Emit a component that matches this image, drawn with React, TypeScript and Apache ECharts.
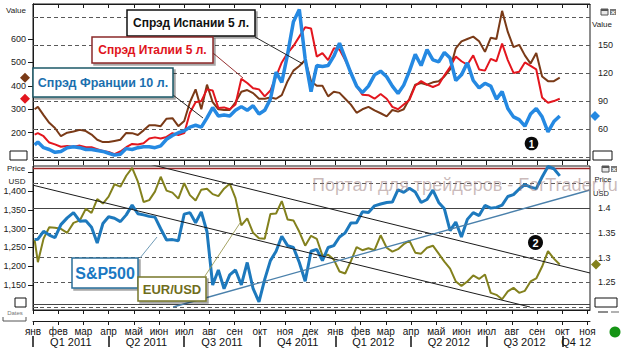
import React, { useEffect, useRef } from 'react';
import * as echarts from 'echarts';

const W = 627;
const H = 349;
const FONT = '"Liberation Sans", Arial, sans-serif';

// ---- categories / tick labels ----
const monthNames = ['янв', 'фев', 'мар', 'апр', 'май', 'июн', 'июл', 'авг', 'сен', 'окт', 'ноя', 'дек'];
const quarterLabels = ['Q1 2011', 'Q2 2011', 'Q3 2011', 'Q4 2011', 'Q1 2012', 'Q2 2012', 'Q3 2012', 'Q4 12'];
const quarterCenters = [1.5, 4.5, 7.5, 10.5, 13.5, 16.5, 19.5, 21.55];
const quarterStarts = [0, 3, 6, 9, 12, 15, 18, 21];
const monthTicks = Array.from({ length: 23 }, (_, i) => i);

// ---- weekly observation dates (first trading day, then Fridays) ----
const firstDate = [2011, 0, 3];
const firstFriday = [2011, 0, 7];
const lastFriday = [2012, 8, 28];

// ---- series values ----
const spain5y = [300, 310, 275, 242, 220, 185, 200, 205, 212, 207,
  192, 170, 160, 160, 165, 170, 199, 198, 190, 210,
  232, 232, 228, 260, 262, 228, 250, 330, 385, 300,
  405, 330, 300, 297, 297, 330, 375, 382, 369, 345,
  345, 350, 345, 360, 420, 465, 485, 510, 420, 400,
  400, 355, 375, 370, 345, 320, 285, 300, 310, 295,
  283, 270, 297, 290, 300, 345, 405, 412, 405, 415,
  420, 440, 470, 560, 590, 600, 610, 590, 545, 605,
  600, 720, 630, 565, 575, 530, 495, 540, 440, 420,
  420, 435];
const italy5y = [192, 198, 185, 158, 150, 140, 143, 140, 145, 138,
  138, 130, 122, 118, 108, 120, 138, 152, 150, 155,
  175, 180, 175, 182, 198, 190, 198, 285, 330, 335,
  385, 380, 305, 308, 300, 320, 430, 412, 390, 385,
  355, 380, 440, 500, 540, 570, 610, 650, 645, 525,
  540, 510, 560, 555, 510, 460, 400, 362, 360, 345,
  365, 345, 310, 300, 320, 340, 400, 420, 405, 395,
  405, 445, 480, 525, 505, 490, 530, 470, 465, 515,
  505, 580, 510, 455, 460, 500, 485, 470, 350, 328,
  335, 345];
const france10y = [43, 46, 40, 38, 35, 36, 40, 41, 40, 38,
  38, 37, 36, 34, 32, 33, 39, 38, 40, 41,
  41, 40, 42, 49, 53, 56, 58, 62, 64, 62,
  72, 83, 74, 75, 74, 80, 84, 80, 85, 76,
  80, 92, 121, 110, 140, 175, 188, 135, 100, 128,
  127, 128, 138, 152, 136, 120, 106, 99, 106, 118,
  122, 116, 106, 98, 107, 122, 140, 128, 145, 134,
  132, 142, 136, 112, 118, 131, 112, 104, 109, 106,
  92, 100, 82, 73, 70, 63, 76, 82, 73, 57,
  68, 74];
const sp500 = [1271, 1272, 1293, 1283, 1276, 1311, 1329, 1343, 1320, 1321,
  1304, 1262, 1314, 1332, 1328, 1319, 1337, 1363, 1340, 1337,
  1333, 1331, 1300, 1270, 1271, 1268, 1339, 1343, 1316, 1345,
  1292, 1150, 1190, 1140, 1177, 1190, 1150, 1210, 1140, 1105,
  1165, 1215, 1240, 1280, 1255, 1250, 1210, 1160, 1240, 1245,
  1215, 1250, 1255, 1278, 1289, 1315, 1316, 1345, 1343, 1361,
  1366, 1370, 1371, 1404, 1397, 1408, 1398, 1370, 1378, 1403,
  1370, 1353, 1295, 1318, 1278, 1325, 1343, 1335, 1362, 1355,
  1357, 1363, 1386, 1391, 1406, 1418, 1411, 1407, 1438, 1466,
  1460, 1441];
const eurusd = [1.336, 1.2908, 1.3383, 1.3612, 1.36, 1.358, 1.35, 1.37, 1.375, 1.3985,
  1.39, 1.418, 1.409, 1.423, 1.448, 1.443, 1.465, 1.481, 1.453, 1.412,
  1.416, 1.433, 1.463, 1.435, 1.431, 1.419, 1.45, 1.426, 1.415, 1.437,
  1.439, 1.428, 1.424, 1.439, 1.449, 1.42, 1.365, 1.379, 1.35, 1.339,
  1.338, 1.388, 1.389, 1.414, 1.377, 1.375, 1.352, 1.324, 1.344, 1.338,
  1.304, 1.306, 1.296, 1.272, 1.268, 1.293, 1.321, 1.315, 1.319, 1.315,
  1.345, 1.32, 1.312, 1.317, 1.327, 1.334, 1.31, 1.308, 1.32, 1.324,
  1.308, 1.292, 1.278, 1.252, 1.243, 1.252, 1.264, 1.257, 1.266, 1.229,
  1.225, 1.216, 1.232, 1.239, 1.229, 1.233, 1.252, 1.258, 1.282, 1.313,
  1.298, 1.286];

// trend lines: [month index, value]
const eurChannelUpper = [[4.44, 1.4907], [22.1, 1.269]];
const eurChannelLower = [[0, 1.446], [19.72, 1.2004]];
const spSupportTrend = [[5.56, 1091.3], [22.1, 1403.3]];
const spHorizontal = 1099;
const eurTopLine = 1.4835;
const topGridValues = [30, 60, 90, 120, 150, 180];
const bottomGridValues = [1.2, 1.25, 1.3, 1.35, 1.45];
const eurSolidLine = 1.4;

// ---- helpers ----
const toMonths = (t: number) => {
  const d = new Date(t);
  const y = d.getUTCFullYear();
  const m = d.getUTCMonth();
  const dim = new Date(Date.UTC(y, m + 1, 0)).getUTCDate();
  return (y - 2011) * 12 + m + (d.getUTCDate() - 1) / dim;
};
const dates: number[] = [Date.UTC(firstDate[0], firstDate[1], firstDate[2])];
for (let t = Date.UTC(firstFriday[0], firstFriday[1], firstFriday[2]);
  t <= Date.UTC(lastFriday[0], lastFriday[1], lastFriday[2]); t += 7 * 86400000) dates.push(t);
const xs = dates.map(toMonths);
const pairs = (vals: number[]) => vals.map((v, i) => [xs[i], v]);

const C = {
  spain: '#7a3a17',
  italy: '#e3161e',
  france: '#2589e2',
  sp: '#1d79bd',
  eur: '#83811d',
  axis: '#1a1a1a',
  grid: '#5a5a5a',
};

function buildOption(): any {
  const xBase = {
    type: 'value', min: 0, max: 22.1,
    splitLine: { show: false },
    axisLabel: { show: false },
    axisLine: { show: true, lineStyle: { color: C.axis, width: 1 } },
  };
  const yLabel = { fontSize: 9, fontFamily: FONT, color: '#222' };
  const dashed = { color: C.grid, type: [4, 3], width: 1 };
  return {
    animation: false,
    backgroundColor: '#fff',
    grid: [
      { left: 33, right: 37, top: 4, height: 156, show: true, borderColor: C.axis, borderWidth: 1 },
      { left: 33, right: 37, top: 166, height: 144, show: true, borderColor: C.axis, borderWidth: 1 },
    ],
    xAxis: [
      { ...xBase, gridIndex: 0, position: 'bottom', axisTick: { length: 5, customValues: monthTicks, lineStyle: { color: C.axis } } },
      { ...xBase, gridIndex: 0, position: 'top', axisTick: { inside: true, length: 4, customValues: monthTicks, lineStyle: { color: C.axis } } },
      { ...xBase, gridIndex: 1, position: 'bottom', axisTick: { length: 4, customValues: monthTicks, lineStyle: { color: C.axis } } },
      {
        ...xBase, gridIndex: 1, position: 'bottom', offset: 11,
        axisTick: { length: 4, customValues: monthTicks, lineStyle: { color: C.axis } },
        axisLabel: {
          show: true, customValues: monthTicks, margin: 5, fontSize: 10, fontFamily: FONT, color: '#111',
          formatter: (v: number) => monthNames[Math.round(v) % 12],
        },
      },
      {
        ...xBase, gridIndex: 1, position: 'bottom', offset: 26,
        axisLine: { show: false },
        axisTick: { show: true, length: 11, customValues: quarterStarts, lineStyle: { color: '#111', width: 1.5 } },
        axisLabel: {
          show: true, customValues: quarterCenters, margin: 0, fontSize: 11, fontFamily: FONT, color: '#111',
          formatter: (v: number) => {
            const i = quarterCenters.findIndex((c) => Math.abs(c - v) < 1e-6);
            return i >= 0 ? quarterLabels[i] : '';
          },
        },
      },
    ],
    yAxis: [
      {
        type: 'value', gridIndex: 0, position: 'left', min: 83.5, max: 749.3,
        splitLine: { show: false },
        axisLine: { show: true, lineStyle: { color: C.axis } },
        axisTick: { show: true, length: 5, customValues: [200, 300, 400, 500, 600], lineStyle: { color: C.axis } },
        axisLabel: { ...yLabel, margin: 7, customValues: [200, 300, 400, 500, 600] },
      },
      {
        type: 'value', gridIndex: 0, position: 'right', min: 26.79, max: 193.93,
        splitLine: { show: false },
        axisLine: { show: true, lineStyle: { color: C.axis } },
        axisTick: { show: true, length: 5, customValues: topGridValues, lineStyle: { color: C.axis } },
        axisLabel: { ...yLabel, margin: 8, customValues: [60, 90, 120, 150] },
      },
      {
        type: 'value', gridIndex: 1, position: 'left', min: 1083.3, max: 1467.3,
        splitLine: { show: false },
        axisLine: { show: true, lineStyle: { color: C.axis } },
        axisTick: { show: true, length: 5, customValues: [1150, 1200, 1250, 1300, 1350, 1400, 1450], lineStyle: { color: C.axis } },
        axisLabel: {
          ...yLabel, margin: 7, customValues: [1150, 1200, 1250, 1300, 1350, 1400],
          formatter: (v: number) => v.toLocaleString('en-US'),
        },
      },
      {
        type: 'value', gridIndex: 1, position: 'right', min: 1.1944, max: 1.4847,
        splitLine: { show: false },
        axisLine: { show: true, lineStyle: { color: C.axis } },
        axisTick: { show: true, length: 5, customValues: [1.2, 1.25, 1.3, 1.35, 1.4, 1.45], lineStyle: { color: C.axis } },
        axisLabel: { ...yLabel, margin: 8, customValues: [1.25, 1.3, 1.35, 1.4], formatter: (v: number) => String(+v.toFixed(2)) },
      },
    ],
    series: [
      {
        type: 'line', name: 'Спрэд Испании 5 л.', xAxisIndex: 0, yAxisIndex: 0, data: pairs(spain5y),
        showSymbol: false, symbol: 'none', lineStyle: { color: C.spain, width: 2 }, z: 3,
      },
      {
        type: 'line', name: 'Спрэд Италии 5 л.', xAxisIndex: 0, yAxisIndex: 0, data: pairs(italy5y),
        showSymbol: false, symbol: 'none', lineStyle: { color: C.italy, width: 2 }, z: 4,
      },
      {
        type: 'line', name: 'Спрэд Франции 10 л.', xAxisIndex: 0, yAxisIndex: 1, data: pairs(france10y),
        showSymbol: false, symbol: 'none', lineStyle: { color: C.france, width: 3.5 }, z: 5,
        markLine: {
          z: 1, silent: true, symbol: 'none', label: { show: false }, lineStyle: dashed,
          data: topGridValues.map((v) => ({ yAxis: v })),
        },
      },
      {
        type: 'line', name: 'EUR/USD', xAxisIndex: 2, yAxisIndex: 3, data: pairs(eurusd),
        showSymbol: false, symbol: 'none', lineStyle: { color: C.eur, width: 2 }, z: 4,
        markLine: {
          z: 1, silent: true, symbol: 'none', label: { show: false }, lineStyle: dashed,
          data: [
            ...bottomGridValues.map((v) => ({ yAxis: v })),
            { yAxis: eurSolidLine, lineStyle: { color: '#444', type: 'solid', width: 1.2 } },
            { yAxis: eurTopLine, lineStyle: { color: '#a02828', type: 'solid', width: 1.3 } },
          ],
        },
      },
      {
        type: 'line', name: 'S&P500', xAxisIndex: 2, yAxisIndex: 2, data: pairs(sp500),
        showSymbol: false, symbol: 'none', lineStyle: { color: C.sp, width: 3 }, z: 5,
        markLine: {
          z: 1, silent: true, symbol: 'none', label: { show: false },
          lineStyle: { color: '#444', type: 'solid', width: 1 },
          data: [{ yAxis: spHorizontal }],
        },
      },
      {
        type: 'line', xAxisIndex: 2, yAxisIndex: 3, data: eurChannelUpper, symbol: 'none',
        lineStyle: { color: '#1a1a1a', width: 1 }, z: 6, silent: true,
      },
      {
        type: 'line', xAxisIndex: 2, yAxisIndex: 3, data: eurChannelLower, symbol: 'none',
        lineStyle: { color: '#1a1a1a', width: 1 }, z: 6, silent: true,
      },
      {
        type: 'line', xAxisIndex: 2, yAxisIndex: 2, data: spSupportTrend, symbol: 'none',
        lineStyle: { color: '#4a80ab', width: 1.3 }, z: 6, silent: true,
      },
    ],
  };
}

function txt(x: number, y: number, text: string, o: any = {}) {
  return {
    type: 'text', z: 100,
    style: {
      x, y, text, fontFamily: FONT, fontSize: 9, fill: '#222', align: 'center', verticalAlign: 'middle', ...o,
    },
  };
}
function box(x: number, y: number, w: number, h: number, stroke: string, o: any = {}) {
  return {
    type: 'rect', z: 100, shape: { x, y, width: w, height: h },
    style: { fill: '#fff', stroke, lineWidth: 1.5, shadowColor: 'rgba(0,0,0,0.35)', shadowOffsetX: 2, shadowOffsetY: 2, shadowBlur: 1, ...o },
  };
}
function seg(x1: number, y1: number, x2: number, y2: number, stroke: string, w = 0.9) {
  return { type: 'line', z: 99, shape: { x1, y1, x2, y2 }, style: { stroke, lineWidth: w } };
}
function diamond(x: number, y: number, fill: string) {
  return { type: 'polygon', z: 100, shape: { points: [[x, y - 5], [x + 5, y], [x, y + 5], [x - 5, y]] }, style: { fill } };
}
function tag(x: number, y: number, w: number, text: string) {
  return [
    { type: 'rect', z: 101, shape: { x, y, width: w, height: 9 }, style: { fill: '#fff', stroke: '#111', lineWidth: 1 } },
    txt(x + w / 2, y + 4.7, text, { fontSize: 8, fill: '#111' }),
  ];
}
function winIcons(x: number, y: number) {
  return [
    { type: 'rect', z: 100, shape: { x, y, width: 7, height: 6 }, style: { fill: '#e8e8e8', stroke: '#555', lineWidth: 1 } },
    { type: 'rect', z: 101, shape: { x, y, width: 7, height: 2 }, style: { fill: '#555' } },
    { type: 'rect', z: 100, shape: { x: x + 9, y, width: 6, height: 6 }, style: { fill: '#777' } },
    txt(x + 12, y + 3, '×', { fontSize: 8, fill: '#fff', fontWeight: 'bold' }),
  ];
}

function buildGraphics(chart: any): any[] {
  const last = (a: number[]) => a[a.length - 1];
  const ySpain = chart.convertToPixel({ yAxisIndex: 0 }, last(spain5y));
  const yItaly = chart.convertToPixel({ yAxisIndex: 0 }, last(italy5y));
  const yFrance = chart.convertToPixel({ yAxisIndex: 1 }, last(france10y));
  const yEur = chart.convertToPixel({ yAxisIndex: 3 }, last(eurusd));
  return [
    // axis captions
    txt(16, 10, 'Value', { fontSize: 8 }),
    txt(602, 24, 'Value', { fontSize: 8 }),
    txt(16, 168, 'Price', { fontSize: 8 }),
    txt(17, 181, 'USD', { fontSize: 8 }),
    txt(603, 179, 'Price', { fontSize: 7.5 }),
    txt(601, 193, 'USD', { fontSize: 7.5 }),
    txt(15, 313, 'Dates', { fontSize: 6, fill: '#777' }),
    { type: 'polyline', z: 100, shape: { points: [[3, 317], [3, 321], [26, 321], [26, 317]] }, style: { stroke: '#555', lineWidth: 1, fill: 'none' } },
    // value tags
    ...tag(10, 151, 17, '.123'),
    ...tag(593, 151, 19, '123'),
    ...tag(15, 298, 11, '.12'),
    ...tag(595, 298, 22, '1234'),
    seg(598, 312, 608, 312, '#666', 1.5),
    seg(611, 312, 619, 312, '#999', 1.5),
    // window icons
    ...winIcons(601, 9),
    ...winIcons(602, 166),
    { type: 'circle', z: 100, shape: { cx: 615, cy: 332, r: 5.5 }, style: { fill: '#159415' } },
    // last-value diamonds
    diamond(25, ySpain, C.spain),
    diamond(25, yItaly, C.italy),
    diamond(595, yFrance, C.france),
    diamond(596, yEur, C.eur),
    // leader lines
    seg(255, 37, 303, 64, '#111'),
    seg(213, 53, 243, 78, '#8b1a1a'),
    seg(173, 95, 203, 118, '#111'),
    seg(140, 258, 157, 237, '#5f8fae'),
    seg(205, 276, 240, 223, '#9c9a55'),
    // label boxes
    box(127, 10, 128, 26, '#111'),
    txt(191, 23, 'Спрэд Испании 5 л.', { fontSize: 12, fontWeight: 'bold', fill: '#111' }),
    box(92, 37, 121, 26, '#8b2a2a'),
    txt(152.5, 50, 'Спрэд Италии 5 л.', { fontSize: 12, fontWeight: 'bold', fill: '#e0141c' }),
    box(33, 68, 140, 29, '#1c5868'),
    txt(103, 82.5, 'Спрэд Франции 10 л.', { fontSize: 12.5, fontWeight: 'bold', fill: '#1b6fae' }),
    box(72, 258, 66, 30, '#2a6f9a'),
    txt(105, 273, 'S&P500', { fontSize: 16, fontWeight: 'bold', fill: '#1a78c2' }),
    box(138, 277, 68, 24, '#77772a'),
    txt(172, 289, 'EUR/USD', { fontSize: 13, fontWeight: 'bold', fill: '#6f6d1c' }),
    // numbered markers
    { type: 'circle', z: 100, shape: { cx: 531.5, cy: 143.5, r: 6.8 }, style: { fill: '#0a0a0a' } },
    txt(531.5, 144, '1', { fontSize: 10, fontWeight: 'bold', fill: '#fff' }),
    { type: 'circle', z: 100, shape: { cx: 535.5, cy: 242.5, r: 7.5 }, style: { fill: '#0a0a0a' } },
    txt(535.5, 243, '2', { fontSize: 11, fontWeight: 'bold', fill: '#fff' }),
    // watermark
    txt(312, 185, 'Портал для трейдеров - ForTrader.ru', { fontSize: 18, fill: 'rgba(150,118,118,0.5)', align: 'left' }),
  ];
}

export default function App() {
  const ref = useRef<HTMLDivElement>(null);
  useEffect(() => {
    const el = ref.current;
    if (!el) return;
    const chart = echarts.init(el, null, { renderer: 'svg', width: W, height: H });
    chart.setOption(buildOption());
    chart.setOption({ graphic: buildGraphics(chart) });
    return () => chart.dispose();
  }, []);
  return <div ref={ref} style={{ position: 'fixed', left: 0, top: 0, width: W, height: H, background: '#fff' }} />;
}
